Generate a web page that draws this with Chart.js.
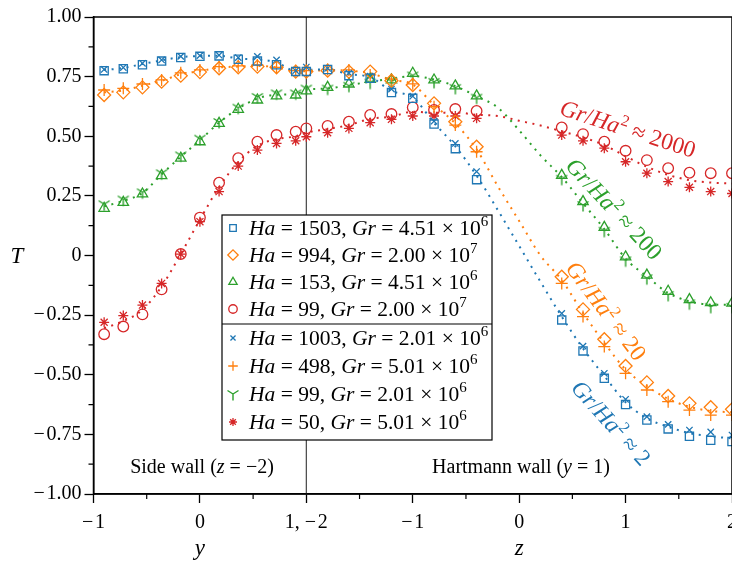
<!DOCTYPE html>
<html>
<head>
<meta charset="utf-8">
<script src="https://cdn.jsdelivr.net/npm/chart.js@4.4.0/dist/chart.umd.min.js"></script>
<style>
html, body { margin: 0; padding: 0; background: #fff; overflow: hidden; }
#wrap { width: 745px; height: 561px; }
</style>
</head>
<body>
<div id="wrap"><canvas id="chart" width="745" height="561"></canvas></div>
<script>
// sample positions: side wall (y) then Hartmann wall (z)
const sideY = [-0.9, -0.72, -0.54, -0.36, -0.18, 0, 0.18, 0.36, 0.54, 0.72, 0.9, 1.0];
const hartZ = [-1.8, -1.6, -1.4, -1.2, -1.0, -0.8, -0.6, -0.4, 0.4, 0.6, 0.8, 1.0, 1.2, 1.4, 1.6, 1.8, 2.0];
const curveZ = [-1.8, -1.6, -1.4, -1.2, -1.0, -0.8, -0.6, -0.4, -0.2, 0, 0.2, 0.4, 0.6, 0.8, 1.0, 1.2, 1.4, 1.6, 1.8, 2.0];

const MINUS = "\u2212\u200A";
const xTickLabels = [MINUS + "1", "0", "1, " + MINUS + "2", MINUS + "1", "0", "1", "2"];

// measured T values
const tHa1503 = [0.775, 0.783, 0.80, 0.815, 0.83, 0.835, 0.837, 0.823, 0.815, 0.80, 0.772, 0.772,
  0.78, 0.754, 0.743, 0.683, 0.659, 0.551, 0.448, 0.318,
  -0.27, -0.40, -0.515, -0.625, -0.69, -0.727, -0.758, -0.775, -0.78];
const tHa994 = [0.673, 0.684, 0.705, 0.729, 0.754, 0.769, 0.785, 0.789, 0.792, 0.789, 0.771, 0.771,
  0.775, 0.771, 0.771, 0.733, 0.715, 0.638, 0.561, 0.456,
  -0.089, -0.226, -0.351, -0.463, -0.532, -0.589, -0.62, -0.636, -0.645];
const tHa153 = [0.198, 0.223, 0.258, 0.335, 0.408, 0.477, 0.554, 0.613, 0.652, 0.669, 0.673, 0.69,
  0.705, 0.719, 0.739, 0.736, 0.764, 0.736, 0.711, 0.669,
  0.336, 0.226, 0.118, -0.006, -0.082, -0.15, -0.185, -0.198, -0.2];
const tHa99a = [-0.33, -0.298, -0.247, -0.142, 0.006, 0.159, 0.305, 0.408, 0.477, 0.505, 0.519, 0.533,
  0.543, 0.561, 0.589, 0.593, 0.621, 0.61, 0.614, 0.606,
  0.537, 0.509, 0.477, 0.439, 0.40, 0.366, 0.347, 0.345, 0.345];
const tHa1003 = [0.78, 0.788, 0.806, 0.82, 0.835, 0.838, 0.84, 0.83, 0.835, 0.82, 0.775, 0.79,
  0.785, 0.765, 0.752, 0.698, 0.668, 0.563, 0.47, 0.352,
  -0.243, -0.38, -0.494, -0.603, -0.676, -0.708, -0.732, -0.74, -0.753];
const tHa498 = [0.694, 0.701, 0.719, 0.736, 0.766, 0.778, 0.792, 0.795, 0.799, 0.789, 0.775, 0.775,
  0.78, 0.778, 0.757, 0.74, 0.72, 0.624, 0.547, 0.435,
  -0.117, -0.256, -0.382, -0.494, -0.564, -0.613, -0.648, -0.669, -0.669];
const tHa99b = [0.215, 0.235, 0.265, 0.345, 0.42, 0.49, 0.56, 0.62, 0.665, 0.68, 0.68, 0.70,
  0.70, 0.712, 0.725, 0.73, 0.755, 0.728, 0.703, 0.662,
  0.322, 0.212, 0.104, -0.02, -0.095, -0.165, -0.2, -0.215, -0.215];
const tHa50 = [-0.28, -0.252, -0.208, -0.117, 0.006, 0.142, 0.268, 0.375, 0.442, 0.47, 0.481, 0.498,
  0.515, 0.533, 0.557, 0.571, 0.585, 0.585, 0.585, 0.575,
  0.505, 0.481, 0.45, 0.393, 0.345, 0.31, 0.286, 0.268, 0.26];

// simulation curves (dotted), Gr/Ha^2 = 2, 20, 200, 2000
const curve2 = [0.778, 0.786, 0.803, 0.818, 0.832, 0.836, 0.838, 0.826, 0.822, 0.81, 0.774, 0.778,
  0.78, 0.76, 0.748, 0.69, 0.663, 0.556, 0.458, 0.335, 0.19, 0.04, -0.11,
  -0.256, -0.39, -0.505, -0.615, -0.683, -0.718, -0.745, -0.758, -0.767];
const curve20 = [0.684, 0.692, 0.712, 0.732, 0.76, 0.773, 0.788, 0.792, 0.795, 0.789, 0.773, 0.773,
  0.777, 0.775, 0.764, 0.737, 0.717, 0.631, 0.554, 0.445, 0.29, 0.145, 0.0,
  -0.103, -0.241, -0.366, -0.478, -0.548, -0.601, -0.634, -0.652, -0.657];
const curve200 = [0.206, 0.229, 0.262, 0.34, 0.414, 0.483, 0.557, 0.616, 0.658, 0.674, 0.676, 0.695,
  0.70, 0.715, 0.728, 0.742, 0.752, 0.738, 0.71, 0.668, 0.62, 0.525, 0.42,
  0.329, 0.219, 0.111, -0.013, -0.088, -0.157, -0.192, -0.206, -0.207];
const curve2000 = [-0.305, -0.275, -0.228, -0.13, 0.006, 0.15, 0.287, 0.392, 0.46, 0.488, 0.5, 0.515,
  0.53, 0.547, 0.573, 0.582, 0.603, 0.598, 0.6, 0.59, 0.585, 0.565, 0.545,
  0.521, 0.495, 0.463, 0.416, 0.372, 0.338, 0.316, 0.306, 0.302];

const haValues = [1503, 994, 153, 99, 1003, 498, 99, 50];
const grMantissa = ["4.51", "2.00", "4.51", "2.00", "2.01", "5.01", "2.01", "5.01"];
const grExponent = [6, 7, 6, 7, 6, 6, 6, 6];
const ratioLabels = [2, 20, 200, 2000];

const BLUE = "#1f77b4", ORANGE = "#ff7f0e", GREEN = "#2ca02c", RED = "#d62728";
const FONT = '"Liberation Serif", "Times New Roman", serif';

// side wall y in [-1,1] -> [0,2]; Hartmann wall z in [-2,2] -> [2,6]
const markerX = sideY.map(v => v + 1).concat(hartZ.map(v => v + 4));
const curveX = sideY.map(v => v + 1).concat(curveZ.map(v => v + 4));
const pts = (xs, ts) => xs.map((x, i) => ({ x: x, y: ts[i] }));

function makeY(color) {
  const c = document.createElement("canvas");
  c.width = 16; c.height = 16;
  const g = c.getContext("2d");
  g.strokeStyle = color; g.lineWidth = 1.4;
  g.beginPath();
  g.moveTo(8, 8); g.lineTo(8, 14.5);
  g.moveTo(8, 8); g.lineTo(2.5, 4.5);
  g.moveTo(8, 8); g.lineTo(13.5, 4.5);
  g.stroke();
  return c;
}

function markerSet(ts, color, style, r) {
  return {
    data: pts(markerX, ts), showLine: false, order: 0,
    pointStyle: style, pointRadius: r, pointBorderWidth: 1.3,
    pointBorderColor: color, pointBackgroundColor: "rgba(0,0,0,0)", borderColor: color
  };
}
function curveSet(ts, color) {
  return {
    data: pts(curveX, ts), showLine: true, order: 10, pointRadius: 0,
    borderColor: color, borderWidth: 2, borderDash: [2, 5.5], cubicInterpolationMode: "monotone"
  };
}

const datasets = [
  curveSet(curve2, BLUE), curveSet(curve20, ORANGE), curveSet(curve200, GREEN), curveSet(curve2000, RED),
  markerSet(tHa1503, BLUE, "rect", 5.8),
  markerSet(tHa994, ORANGE, "rectRot", 6.5),
  markerSet(tHa153, GREEN, "triangle", 6),
  markerSet(tHa99a, RED, "circle", 5.3),
  markerSet(tHa1003, BLUE, "crossRot", 4.5),
  markerSet(tHa498, ORANGE, "cross", 6),
  markerSet(tHa99b, GREEN, makeY(GREEN), 6),
  markerSet(tHa50, RED, "star", 5)
];

function fontFor(r, size) {
  const s = r.sup ? Math.round(size * 0.7) : size;
  return (r.it ? "italic " : "") + s + "px " + FONT;
}
function runsWidth(ctx, runs, size) {
  let w = 0;
  for (const r of runs) { ctx.font = fontFor(r, size); w += ctx.measureText(r.t).width; }
  return w;
}
function drawRuns(ctx, runs, x, y, size, color) {
  ctx.fillStyle = color; ctx.textAlign = "left"; ctx.textBaseline = "alphabetic";
  let cx = x;
  for (const r of runs) {
    ctx.font = fontFor(r, size);
    ctx.fillText(r.t, cx, r.sup ? y - size * 0.4 : y);
    cx += ctx.measureText(r.t).width;
  }
}
function drawCentered(ctx, runs, cx, cy, size, color, angle) {
  ctx.save();
  ctx.translate(cx, cy);
  ctx.rotate(angle * Math.PI / 180);
  const w = runsWidth(ctx, runs, size);
  drawRuns(ctx, runs, -w / 2, size * 0.32, size, color);
  ctx.restore();
}

const decor = {
  id: "decor",
  beforeDatasetsDraw(chart) {
    const { ctx, chartArea: a, scales: { x } } = chart;
    const wx = x.getPixelForValue(2);
    ctx.save();
    ctx.strokeStyle = "#444"; ctx.lineWidth = 1.2;
    ctx.beginPath(); ctx.moveTo(wx, a.top); ctx.lineTo(wx, a.bottom); ctx.stroke();
    ctx.restore();
  },
  afterDraw(chart) {
    const { ctx, chartArea: a, scales: { x, y } } = chart;
    ctx.save();
    // frame
    ctx.strokeStyle = "#000"; ctx.lineWidth = 1.5;
    ctx.strokeRect(a.left, a.top, a.right - a.left, a.bottom - a.top);
    // minor ticks
    ctx.lineWidth = 1.2;
    ctx.beginPath();
    for (let v = -0.875; v < 1; v += 0.25) {
      const py = y.getPixelForValue(v);
      ctx.moveTo(a.left, py); ctx.lineTo(a.left - 5, py);
    }
    for (let v = 0.5; v < 6; v += 1) {
      const px = x.getPixelForValue(v);
      ctx.moveTo(px, a.bottom); ctx.lineTo(px, a.bottom + 5);
    }
    ctx.stroke();

    // axis titles
    drawCentered(ctx, [{ t: "T", it: true }], 17, y.getPixelForValue(0), 23, "#000", 0);
    drawCentered(ctx, [{ t: "y", it: true }], x.getPixelForValue(1), 548, 23, "#000", 0);
    drawCentered(ctx, [{ t: "z", it: true }], x.getPixelForValue(4), 548, 23, "#000", 0);

    // wall labels
    drawCentered(ctx, [{ t: "Side wall (" }, { t: "z", it: true }, { t: " = \u22122)" }], 202, 467, 20, "#000", 0);
    drawCentered(ctx, [{ t: "Hartmann wall (" }, { t: "y", it: true }, { t: " = 1)" }], 521, 467, 20, "#000", 0);

    // curve labels
    const ratioRuns = r => [{ t: "Gr", it: true }, { t: "/" }, { t: "Ha", it: true }, { t: "2", sup: true }, { t: " \u2248 " + r }];
    drawCentered(ctx, ratioRuns(ratioLabels[3]), 628, 129, 23.5, RED, 18);
    drawCentered(ctx, ratioRuns(ratioLabels[2]), 614, 209, 23.5, GREEN, 47);
    drawCentered(ctx, ratioRuns(ratioLabels[1]), 606, 311, 23.5, ORANGE, 53);
    drawCentered(ctx, ratioRuns(ratioLabels[0]), 611, 423, 23.5, BLUE, 48);

    // legend
    const L = 222, R = 492, T0 = 215, B = 440;
    ctx.fillStyle = "#fff"; ctx.fillRect(L, T0, R - L, B - T0);
    ctx.strokeStyle = "#000"; ctx.lineWidth = 1.2;
    ctx.strokeRect(L, T0, R - L, B - T0);
    const divY = 324;
    ctx.beginPath(); ctx.moveTo(L, divY); ctx.lineTo(R, divY); ctx.stroke();
    const markerSets = datasets.slice(4);
    haValues.forEach((ha, i) => {
      const ry = i < 4 ? T0 + 13 + i * 27 : divY + 14 + (i - 4) * 28;
      const ds = markerSets[i];
      ctx.save();
      ctx.strokeStyle = ds.pointBorderColor; ctx.fillStyle = "rgba(0,0,0,0)"; ctx.lineWidth = 1.3;
      Chart.helpers.drawPoint(ctx, { pointStyle: ds.pointStyle, radius: ds.pointRadius * 0.8, borderWidth: 1.3, rotation: 0 }, 233, ry);
      ctx.restore();
      drawRuns(ctx, [{ t: "Ha", it: true }, { t: " = " + ha + ", " }, { t: "Gr", it: true },
        { t: " = " + grMantissa[i] + " \u00d7 10" }, { t: String(grExponent[i]), sup: true }], 249, ry + 7, 21.5, "#000");
    });
    ctx.restore();
  }
};

new Chart(document.getElementById("chart"), {
  type: "scatter",
  data: { datasets: datasets },
  options: {
    responsive: false,
    animation: false,
    events: [],
    layout: { padding: { top: 17, right: 0, left: 0, bottom: 0 } },
    plugins: { legend: { display: false }, tooltip: { enabled: false } },
    scales: {
      x: {
        type: "linear", min: 0, max: 6,
        afterFit: s => { s.height = 67; },
        ticks: { stepSize: 1, color: "#000", padding: 8, font: { family: FONT, size: 20 },
          callback: v => xTickLabels[Math.round(v)] },
        grid: { drawOnChartArea: false, drawTicks: true, tickLength: 9, tickWidth: 1.3, tickColor: "#000" },
        border: { color: "#000", width: 1.5 }
      },
      y: {
        type: "linear", min: -1, max: 1,
        afterFit: s => { s.width = 93.5; },
        ticks: { stepSize: 0.25, color: "#000", padding: 3, font: { family: FONT, size: 20 },
          callback: v => v === 0 ? "0" : (v < 0 ? MINUS : "") + Math.abs(v).toFixed(2) },
        grid: { drawOnChartArea: false, drawTicks: true, tickLength: 9, tickWidth: 1.3, tickColor: "#000" },
        border: { color: "#000", width: 1.5 }
      }
    }
  },
  plugins: [decor]
});
</script>
</body>
</html>
